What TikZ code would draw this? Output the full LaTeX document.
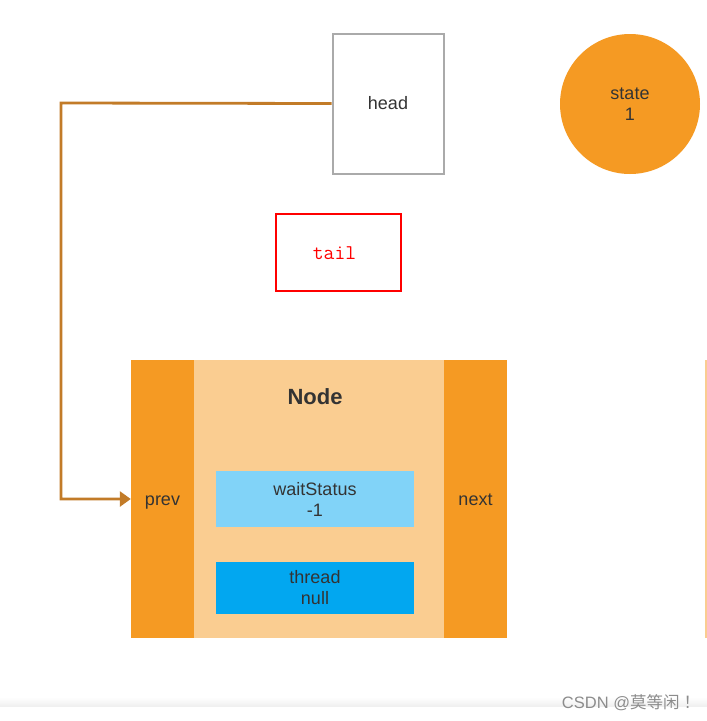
\documentclass[tikz,border=0pt]{standalone}
\usepackage{fontspec}
\setmainfont{Liberation Sans}
\newfontfamily\cjkfont{Noto Sans CJK SC}
\usetikzlibrary{arrows.meta}
\definecolor{orangeA}{HTML}{F59A23}
\definecolor{orangeL}{HTML}{FACD91}
\definecolor{blueL}{HTML}{81D3F8}
\definecolor{blueD}{HTML}{02A7F0}
\definecolor{txt}{HTML}{333333}
\definecolor{conn}{HTML}{C27B28}
\definecolor{grayb}{HTML}{AAAAAA}
\tikzset{
  lbl/.style={font=\fontsize{18}{21}\selectfont, text=txt, align=center, inner sep=0pt},
  boxbase/.style={rectangle, inner sep=0pt, lbl},
}
\begin{document}
\begin{tikzpicture}[x=1pt,y=-1pt]
\useasboundingbox (0,0) rectangle (707,721);
\fill[white] (0,0) rectangle (707,721);
\shade[top color=white, bottom color=black!6] (0,697) rectangle (707,706);
% head
\node[boxbase, draw=grayb, line width=2pt, minimum width=111pt, minimum height=140pt] (head) at (388,103.5) {head};
% state
\node[circle, fill=orangeA, minimum size=140pt, inner sep=0pt, lbl] (state) at (630,104) {state\\1};
% tail
\node[rectangle, draw=red, line width=2pt, minimum width=125pt, minimum height=77pt, inner sep=0pt] (tail) at (338,252) {};
\node[inner sep=0pt, font=\ttfamily\fontsize{21}{24}\selectfont, text=red] (tailtxt) at (334.5,253) {tail};
% Node body
\node[boxbase, fill=orangeL, minimum width=250pt, minimum height=278pt] (mid) at (319,499) {};
\node[boxbase, fill=orangeA, minimum width=63pt, minimum height=278pt] (prev) at (162.5,499) {};
\node[lbl, anchor=base] (prevtxt) at (162.5,505.5) {prev};
\node[boxbase, fill=orangeA, minimum width=63pt, minimum height=278pt] (next) at (475.5,499) {};
\node[lbl, anchor=base] (nexttxt) at (475.5,505.5) {next};
\node[lbl, font=\bfseries\fontsize{22}{26}\selectfont] (title) at (315,397) {Node};
\node[boxbase, fill=blueL, minimum width=198pt, minimum height=56pt] (wait) at (315,499) {waitStatus\\-1};
\node[boxbase, fill=blueD, minimum width=198pt, minimum height=52pt] (thread) at (315,588) {thread\\null};
% connector
\coordinate (bend) at (61,103);
\draw[conn, line width=2.8pt, -{Triangle[length=11pt,width=15pt]}] (head.west) -- (bend) |- (prev.west);
% thin line at right edge
\coordinate (edgeTop) at (706,360);
\coordinate (edgeBot) at (706,638);
\draw[orangeL, line width=1.5pt] (edgeTop) -- (edgeBot);
% watermark
\node[inner sep=0pt, text=black!45, font=\fontsize{16.5}{19}\selectfont] (wm) at (631,703) {CSDN @{\cjkfont 莫等闲\hspace{4pt}！}};
\end{tikzpicture}
\end{document}
